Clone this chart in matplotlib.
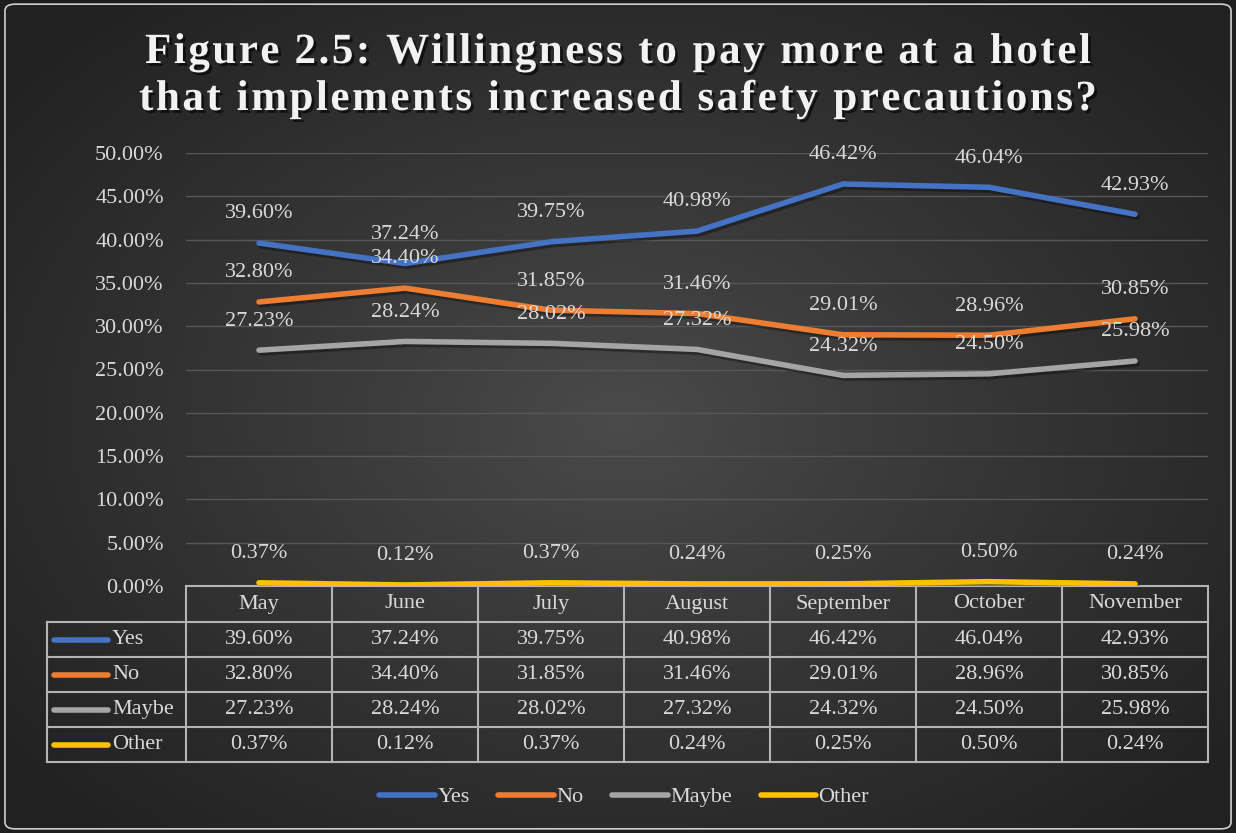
import numpy as np
import matplotlib
matplotlib.use("Agg")
import matplotlib.pyplot as plt
import matplotlib.patheffects as pe
from matplotlib.patches import FancyBboxPatch
from matplotlib.lines import Line2D
from matplotlib.font_manager import FontProperties

months = ["May", "June", "July", "August", "September", "October", "November"]
series_names = ["Yes", "No", "Maybe", "Other"]
yes = [39.60, 37.24, 39.75, 40.98, 46.42, 46.04, 42.93]
no = [32.80, 34.40, 31.85, 31.46, 29.01, 28.96, 30.85]
maybe = [27.23, 28.24, 28.02, 27.32, 24.32, 24.50, 25.98]
other = [0.37, 0.12, 0.37, 0.24, 0.25, 0.50, 0.24]
yticks = [0, 5, 10, 15, 20, 25, 30, 35, 40, 45, 50]
colors = ["#4472C4", "#ED7D31", "#A5A5A5", "#FFC000"]
title_lines = ["Figure 2.5: Willingness to pay more at a hotel",
               "that implements increased safety precautions?"]

series = [yes, no, maybe, other]
TXT = "#d9d9d9"
FONT = "Liberation Serif"
plt.rcParams["font.family"] = [FONT, "DejaVu Serif"]

W, H = 1236, 833
fig = plt.figure(figsize=(W / 100, H / 100), dpi=100)
fig.patch.set_facecolor("#1e1e1e")

# background radial gradient
bg = fig.add_axes([0, 0, 1, 1], zorder=-10)
yy, xx = np.mgrid[0:H, 0:W]
r = np.sqrt(((xx - 620) / 780.0) ** 2 + ((yy - 420) / 540.0) ** 2)
r = np.clip(r, 0, 1) ** 0.9
c0 = np.array([0x4b, 0x4b, 0x4b]) / 255
c1 = np.array([0x22, 0x22, 0x22]) / 255
img = c0[None, None, :] * (1 - r[..., None]) + c1[None, None, :] * r[..., None]
im = bg.imshow(img, extent=[0, 1, 0, 1], aspect="auto", origin="upper")
frame = FancyBboxPatch((0.004, 0.005), 0.992, 0.99, boxstyle="round,pad=0,rounding_size=0.008",
                       transform=bg.transAxes, facecolor="none", edgecolor="#cfcfcf", lw=1.2)
bg.add_patch(frame)
im.set_clip_path(frame)
bg.set_xlim(0, 1); bg.set_ylim(0, 1)
bg.axis("off")

# title with letter spacing
renderer = fig.canvas.get_renderer()
tprop = FontProperties(family=FONT, weight="bold", size=31)
def textw(s):
    w, h, d = renderer.get_text_width_height_descent(s + "x", tprop, ismath=False)
    wx, _, _ = renderer.get_text_width_height_descent("x", tprop, ismath=False)
    return w - wx
target_w = 946.0
nat = textw(title_lines[0])
spacing = (target_w - nat) / (len(title_lines[0]) - 1)
shadow = [pe.withSimplePatchShadow(offset=(2, -2), shadow_rgbFace="black", alpha=0.6)]
for li, line in enumerate(title_lines):
    total = textw(line) + spacing * (len(line) - 1)
    x0 = W / 2 - total / 2
    ybase = [63, 110][li]
    for i, ch in enumerate(line):
        if ch == " ":
            continue
        xp = x0 + textw(line[:i]) + spacing * i
        fig.text(xp / W, (H - ybase) / H, ch, ha="left", va="baseline", fontproperties=tprop,
                 color="#f2f2f2", path_effects=shadow)

left, right, top, bottom = 186, 1208, 153, 586
ax = fig.add_axes([left / W, (H - bottom) / H, (right - left) / W, (bottom - top) / H])
ax.patch.set_alpha(0)
x = np.arange(len(months))
ax.set_xlim(-0.5, len(months) - 0.5)
ax.set_ylim(0, 50)
ax.set_yticks(yticks)
ax.set_yticklabels([f"{v:.2f}%" for v in yticks], color=TXT, fontsize=16)
ax.tick_params(axis="y", length=0, pad=16)
ax.set_xticks([])
for s in ax.spines.values():
    s.set_visible(False)
ax.grid(axis="y", color="#575757", lw=1)
ax.set_axisbelow(True)

for vals, c in zip(series, colors):
    ax.plot(x, vals, color=c, lw=4, solid_capstyle="round", solid_joinstyle="round",
            path_effects=[pe.SimpleLineShadow(offset=(1.5, -2), shadow_color="black", alpha=0.35), pe.Normal()],
            zorder=3)
    for xi, v in zip(x, vals):
        ax.annotate(f"{v:.2f}%", (xi, v), xytext=(0, 21), textcoords="offset points",
                    ha="center", va="center", color=TXT, fontsize=16, zorder=4)

# data table
ah = bottom - top
aw = right - left
def fy(py):
    return (bottom - py) / ah
def fx(px):
    return (px - left) / aw
rows = [586, 622, 657, 692, 727, 762]
lc = "#b4b4b4"
tkw = dict(transform=ax.transAxes, color=lc, lw=1.5, clip_on=False)
ax.plot([0, 1], [fy(586), fy(586)], **tkw)
for py in rows[1:]:
    ax.plot([fx(47), 1], [fy(py), fy(py)], **tkw)
ax.plot([fx(47), fx(47)], [fy(622), fy(762)], **tkw)
for i in range(len(months) + 1):
    ax.plot([i / len(months)] * 2, [fy(586), fy(762)], **tkw)
for i, m in enumerate(months):
    ax.text((i + 0.5) / len(months), fy(604), m, transform=ax.transAxes, ha="center", va="center",
            color=TXT, fontsize=16)
for r_i, (name, vals, c) in enumerate(zip(series_names, series, colors)):
    yc = fy((rows[r_i + 1] + rows[r_i + 2]) / 2)
    ax.add_line(Line2D([fx(54), fx(108)], [yc, yc], transform=ax.transAxes, color=c, lw=4,
                       solid_capstyle="round", clip_on=False))
    ax.text(fx(112), yc, name, transform=ax.transAxes, ha="left", va="center", color=TXT, fontsize=16)
    for i, v in enumerate(vals):
        ax.text((i + 0.5) / len(months), yc, f"{v:.2f}%", transform=ax.transAxes, ha="center",
                va="center", color=TXT, fontsize=16)

# legend
handles = [Line2D([], [], color=c, lw=4, solid_capstyle="round") for c in colors]
leg = fig.legend(handles, series_names, loc="center", bbox_to_anchor=(0.505, (H - 797) / H), ncol=4,
                 frameon=False, fontsize=16, handlelength=2.5, handletextpad=0.1, columnspacing=1.3,
                 labelcolor=TXT)

fig.savefig("out.png", dpi=100)
